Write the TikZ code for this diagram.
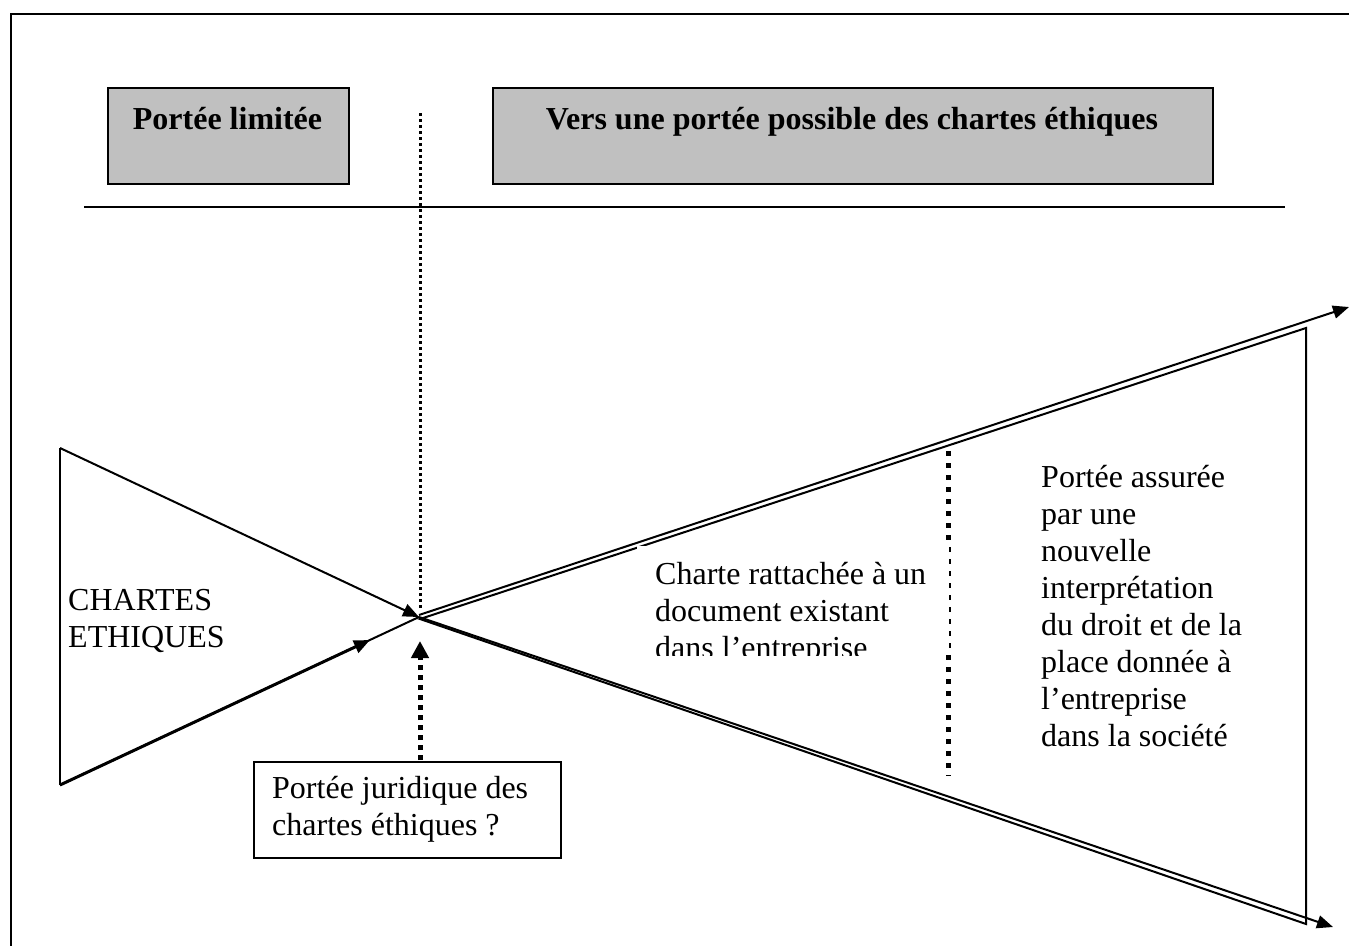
\documentclass[tikz,border=0pt]{standalone}
\usepackage{fontspec}
\setmainfont{Liberation Serif}
\usetikzlibrary{arrows.meta}
\definecolor{boxgray}{HTML}{C0C0C0}
\newcommand\mlines[1]{\begin{tabular}[t]{@{}l@{}}#1\end{tabular}}
\begin{document}
\begin{tikzpicture}[x=1pt,y=-1pt,
  line/.style={line width=2pt},
  hdrbox/.style={draw, line width=2pt, fill=boxgray, anchor=north west, inner sep=0pt},
  plainbox/.style={draw, line width=2pt, fill=white, anchor=north west, inner sep=0pt},
  txt/.style={anchor=base west, inner sep=0pt, font=\fontsize{32}{37}\selectfont},
  hdrtxt/.style={anchor=base, inner sep=0pt, font=\fontsize{32}{37}\selectfont\bfseries},
  tip/.style={-{Triangle[length=16pt,width=13pt]}},
  finedots/.style={line width=3pt, dash pattern=on 3pt off 3pt},
  boldots/.style={line width=5pt, dash pattern=on 5pt off 5pt},
]
\useasboundingbox (0,0) rectangle (1349,945);
\clip (0,0) rectangle (1349,945);

% outer frame
\draw[line] (11,960) -- (11,14) -- (1360,14);

% headings
\node[hdrbox, minimum width=241pt, minimum height=96pt] (h1) at (107,87) {};
\node[hdrtxt] (h1t) at (227.5,129) {Portée limitée};
\node[hdrbox, minimum width=720pt, minimum height=96pt] (h2) at (492,87) {};
\node[hdrtxt] (h2t) at (852,129) {Vers une portée possible des chartes éthiques};
\draw[line] (84,207) -- (1285,207);

% key points
\coordinate (C) at (419,617);
\coordinate (Cup) at (419,615);
\coordinate (Ctri) at (420,619);
\coordinate (L1) at (60,448);
\coordinate (L2) at (60,785);
\coordinate (Lmid) at (370,640);
\coordinate (R1) at (1306,328);
\coordinate (R2) at (1306,924);
\coordinate (T1) at (1349,307);
\coordinate (T2) at (1333,927);
\coordinate (D1) at (420,113);
\coordinate (D2) at (420,609);
\coordinate (E1) at (948,451);
\coordinate (E2) at (948,776);

% left triangle
\draw[line] (L2) -- (L1);
\draw[line, tip] (L1) -- (C);
\draw[line] (L2) -- (C);
\draw[line width=3pt, tip] (L2) -- (Lmid);

% right triangle and diverging arrows
\draw[line] (Ctri) -- (R1) -- (R2) -- cycle;
\draw[line, tip] (Cup) -- (T1);
\draw[line, tip] (C) -- (T2);

% vertical separators
\draw[finedots] (D1) -- (D2);
\draw[line width=5pt, dash pattern=on 5pt off 7pt] (E1) -- (E2);

% question box and its arrow
\node[plainbox, minimum width=307pt, minimum height=96pt] (q) at (253,761) {};
\coordinate (qa) at (420,760);
\coordinate (qb) at (420,641);
\draw[boldots, -{Triangle[length=17pt,width=17pt]}] (qa) -- (qb);
\node[txt] (qt) at (272,798) {\mlines{Portée juridique des\\chartes éthiques ?}};

% labels
\node[txt] (ch) at (68,610) {\mlines{CHARTES\\ETHIQUES}};

\fill[white] (637,546) rectangle (948.5,655);
\begin{scope}
  \clip (637,546) rectangle (948.5,655);
  \node[txt] (doc) at (655,584) {\mlines{Charte rattachée à un\\document existant\\dans l’entreprise}};
\end{scope}

\node[txt] (nouv) at (1041,487) {\mlines{Portée assurée\\par une\\nouvelle\\interprétation\\du droit et de la\\place donnée à\\l’entreprise\\dans la société}};
\end{tikzpicture}
\end{document}
